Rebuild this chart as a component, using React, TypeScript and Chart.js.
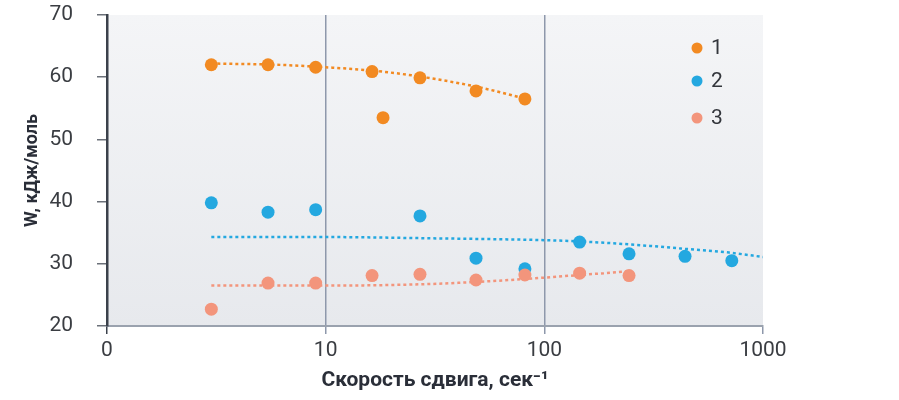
import React, { useEffect, useRef } from "react";
import { Chart, registerables } from "chart.js";

Chart.register(...registerables);

// ---- data ----
const seriesLabels = ["1", "2", "3"];
const seriesColors = ["#F28A22", "#24A8E0", "#F3957C"];

const shear1 = [3.0, 5.45, 9.0, 16.3, 27, 48.7, 81.5, 18.3];
const energy1 = [62.0, 62.0, 61.6, 60.9, 59.9, 57.8, 56.5, 53.5];

const shear2 = [3.0, 5.45, 9.0, 27, 48.7, 81.5, 145, 244, 440, 720];
const energy2 = [39.8, 38.3, 38.7, 37.7, 30.9, 29.2, 33.5, 31.6, 31.2, 30.5];

const shear3 = [3.0, 5.45, 9.0, 16.3, 27, 48.7, 81.5, 145, 244];
const energy3 = [22.7, 26.9, 26.9, 28.1, 28.3, 27.4, 28.2, 28.5, 28.1];

const trendX1 = [3, 6, 10, 17, 27, 50, 85];
const trendY1 = [62.2, 62.0, 61.6, 61.0, 60.1, 58.4, 56.4];

const trendX2 = [3, 10, 30, 100, 145, 250, 440, 700, 1000];
const trendY2 = [34.3, 34.3, 34.1, 33.8, 33.6, 33.1, 32.4, 31.8, 31.1];

const trendX3 = [3, 10, 27, 50, 85, 145, 245];
const trendY3 = [26.5, 26.5, 26.7, 27.1, 27.6, 28.2, 28.8];

const xTickValues = [1, 10, 100, 1000];
const xTickLabels = ["0", "10", "100", "1000"];
const yMin = 20;
const yMax = 70;
const yStep = 10;

const xTitle = "Скорость сдвига, сек⁻¹";
const yTitle = "W, кДж/моль";

const zip = (xs: number[], ys: number[]) => xs.map((x, i) => ({ x, y: ys[i] }));

const FONT = 'Roboto, "Liberation Sans", sans-serif';

const bgPlugin = {
  id: "plotBg",
  beforeDraw(chart: any) {
    const { ctx, chartArea } = chart;
    if (!chartArea) return;
    const g = ctx.createLinearGradient(0, chartArea.top, 0, chartArea.bottom);
    g.addColorStop(0, "#F4F5F7");
    g.addColorStop(1, "#E7E9ED");
    ctx.save();
    ctx.fillStyle = g;
    ctx.fillRect(chartArea.left, chartArea.top, chartArea.right - chartArea.left, chartArea.bottom - chartArea.top);
    ctx.restore();
  },
};

const legendPlugin = {
  id: "cornerLegend",
  afterDraw(chart: any) {
    const { ctx, chartArea } = chart;
    const offsets = [33, 66, 103];
    ctx.save();
    ctx.font = `21px ${FONT}`;
    ctx.textBaseline = "middle";
    ctx.textAlign = "left";
    seriesLabels.forEach((lab, i) => {
      const cx = chartArea.right - 66;
      const cy = chartArea.top + offsets[i];
      ctx.fillStyle = seriesColors[i];
      ctx.beginPath();
      ctx.arc(cx, cy, 5.5, 0, Math.PI * 2);
      ctx.fill();
      ctx.fillStyle = "#33363c";
      ctx.fillText(lab, cx + 14, cy + 1);
    });
    ctx.restore();
  },
};

export default function App() {
  const ref = useRef<HTMLCanvasElement | null>(null);

  useEffect(() => {
    document.body.style.margin = "0";
    const canvas = ref.current;
    if (!canvas) return;

    const pts = (label: string, xs: number[], ys: number[], color: string) => ({
      label,
      data: zip(xs, ys),
      backgroundColor: color,
      borderColor: color,
      pointRadius: 6.5,
      pointBorderWidth: 0,
      showLine: false,
    });
    const trend = (xs: number[], ys: number[], color: string) => ({
      label: "trend",
      data: zip(xs, ys),
      borderColor: color,
      backgroundColor: color,
      borderWidth: 2.5,
      borderDash: [3, 3],
      pointRadius: 0,
      showLine: true,
      cubicInterpolationMode: "monotone",
    });

    const chart = new Chart(canvas, {
      type: "scatter",
      data: {
        datasets: [
          pts("3", shear3, energy3, seriesColors[2]),
          pts("2", shear2, energy2, seriesColors[1]),
          pts("1", shear1, energy1, seriesColors[0]),
          trend(trendX1, trendY1, seriesColors[0]),
          trend(trendX2, trendY2, seriesColors[1]),
          trend(trendX3, trendY3, seriesColors[2]),
        ] as any,
      },
      options: {
        responsive: false,
        animation: false,
        layout: { padding: { left: 0, top: 15, right: 136, bottom: 0 } },
        plugins: {
          legend: { display: false },
          tooltip: { enabled: false },
        },
        scales: {
          x: {
            type: "logarithmic",
            min: 1,
            max: 1000,
            afterFit: (scale: any) => {
              scale.height = 74;
              scale.paddingLeft = 0;
              scale.paddingRight = 0;
            },
            afterBuildTicks: (scale: any) => {
              scale.ticks = xTickValues.map((v) => ({ value: v }));
            },
            ticks: {
              autoSkip: false,
              maxRotation: 0,
              padding: 6,
              color: "#3a3d42",
              font: { family: FONT, size: 21, lineHeight: 1 },
              callback: (v: any) => {
                const i = xTickValues.indexOf(Number(v));
                return i >= 0 ? xTickLabels[i] : "";
              },
            },
            grid: {
              drawOnChartArea: true,
              tickLength: 8,
              lineWidth: 1.5,
              color: (ctx: any) =>
                ctx.tick && (ctx.tick.value === 10 || ctx.tick.value === 100) ? "#8E98AB" : "rgba(0,0,0,0)",
              tickColor: (ctx: any) => (ctx.tick && ctx.tick.value === 1 ? "#3B414B" : "#8E98AB"),
            },
            border: { display: true, color: "#9AA2AE", width: 2 },
            title: {
              display: true,
              text: xTitle,
              color: "#2a2e38",
              font: { family: FONT, size: 21, weight: "bold", lineHeight: 1.2 },
              padding: { top: 0, bottom: 7 },
            },
          },
          y: {
            min: yMin,
            max: yMax,
            afterFit: (scale: any) => {
              scale.width = 107;
              scale.paddingTop = 0;
              scale.paddingBottom = 0;
            },
            ticks: {
              stepSize: yStep,
              padding: 24,
              color: "#3a3d42",
              font: { family: FONT, size: 21, lineHeight: 1 },
            },
            grid: {
              drawOnChartArea: false,
              tickLength: 10,
              lineWidth: 1.5,
              color: "#6b7079",
              tickColor: "#6b7079",
            },
            border: { display: true, color: "#3B414B", width: 2.5 },
            title: {
              display: true,
              text: yTitle,
              color: "#2a2e38",
              font: { family: FONT, size: 18, weight: "bold", lineHeight: 1.2 },
              padding: { top: 22, bottom: 0 },
            },
          },
        },
      } as any,
      plugins: [bgPlugin, legendPlugin],
    });

    return () => chart.destroy();
  }, []);

  return (
    <div style={{ width: 899, height: 400, background: "#ffffff" }}>
      <canvas ref={ref} width={899} height={400} style={{ width: 899, height: 400, display: "block" }} />
    </div>
  );
}
